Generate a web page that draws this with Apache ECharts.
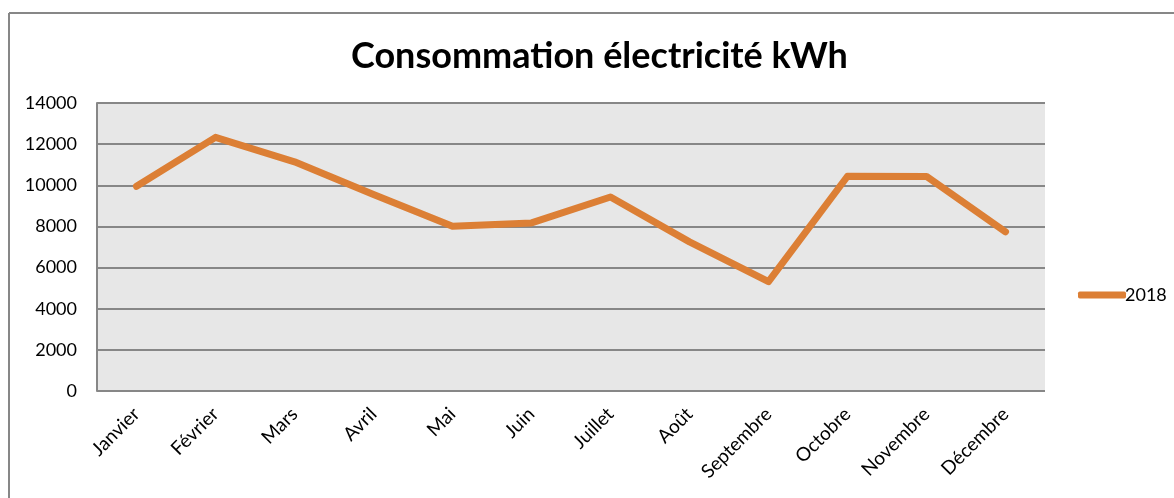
<!DOCTYPE html>
<html>
<head>
<meta charset="utf-8">
<title>Consommation électricité kWh</title>
<script src="https://cdn.jsdelivr.net/npm/echarts@6/dist/echarts.min.js"></script>
<style>
  html, body { margin: 0; padding: 0; background: #fff; }
  #main { width: 1174px; height: 498px; }
</style>
</head>
<body>
<div id="main"></div>
<script>
  // Data
  var months = ['Janvier', 'Février', 'Mars', 'Avril', 'Mai', 'Juin', 'Juillet',
    'Août', 'Septembre', 'Octobre', 'Novembre', 'Décembre'];
  var values2018 = [9950, 12330, 11140, 9550, 8010, 8170, 9430, 7250, 5320, 10440, 10430, 7740];
  var seriesName = '2018';

  var myChart = echarts.init(document.getElementById('main'));

  var option = {
    animation: false,
    backgroundColor: '#ffffff',
    title: {
      text: 'Consommation électricité kWh',
      left: 346,
      top: 33,
      textStyle: {
        fontFamily: 'Lato',
        fontWeight: 'bold',
        fontSize: 36,
        color: '#000'
      }
    },
    // frame of the chart area (only top and left edges are visible)
    graphic: [
      { type: 'line', shape: { x1: 9, y1: 13, x2: 1174, y2: 13 }, style: { stroke: '#878787', lineWidth: 2 } },
      { type: 'line', shape: { x1: 9, y1: 13, x2: 9, y2: 498 }, style: { stroke: '#878787', lineWidth: 2 } }
    ],
    legend: {
      data: [seriesName],
      left: 1073,
      top: 281,
      icon: 'roundRect',
      itemWidth: 48,
      itemHeight: 7,
      itemGap: 0,
      textStyle: {
        fontFamily: 'Lato',
        fontSize: 18,
        color: '#000',
        padding: [0, 0, 0, -6]
      }
    },
    grid: {
      left: 97,
      right: 129,
      top: 103,
      bottom: 107,
      show: true,
      backgroundColor: '#e7e7e7',
      borderWidth: 0
    },
    xAxis: {
      type: 'category',
      data: months,
      boundaryGap: true,
      axisLine: { show: false },
      axisTick: { show: false },
      axisLabel: {
        rotate: 45,
        margin: 20,
        fontFamily: 'Lato',
        fontSize: 19,
        color: '#000',
        interval: 0
      }
    },
    yAxis: {
      type: 'value',
      min: 0,
      max: 14000,
      interval: 2000,
      axisLine: { show: true, lineStyle: { color: '#878787', width: 2 } },
      axisTick: { show: false },
      axisLabel: {
        margin: 20,
        fontFamily: 'Lato',
        fontSize: 18,
        color: '#000',
        formatter: function (v) { return String(v); }
      },
      splitLine: { show: true, lineStyle: { color: '#878787', width: 2 } }
    },
    series: [
      {
        name: seriesName,
        type: 'line',
        data: values2018,
        showSymbol: false,
        symbol: 'none',
        itemStyle: { color: '#dc7f35' },
        lineStyle: { color: '#dc7f35', width: 7, cap: 'round', join: 'round' }
      }
    ]
  };

  myChart.setOption(option);
</script>
</body>
</html>
